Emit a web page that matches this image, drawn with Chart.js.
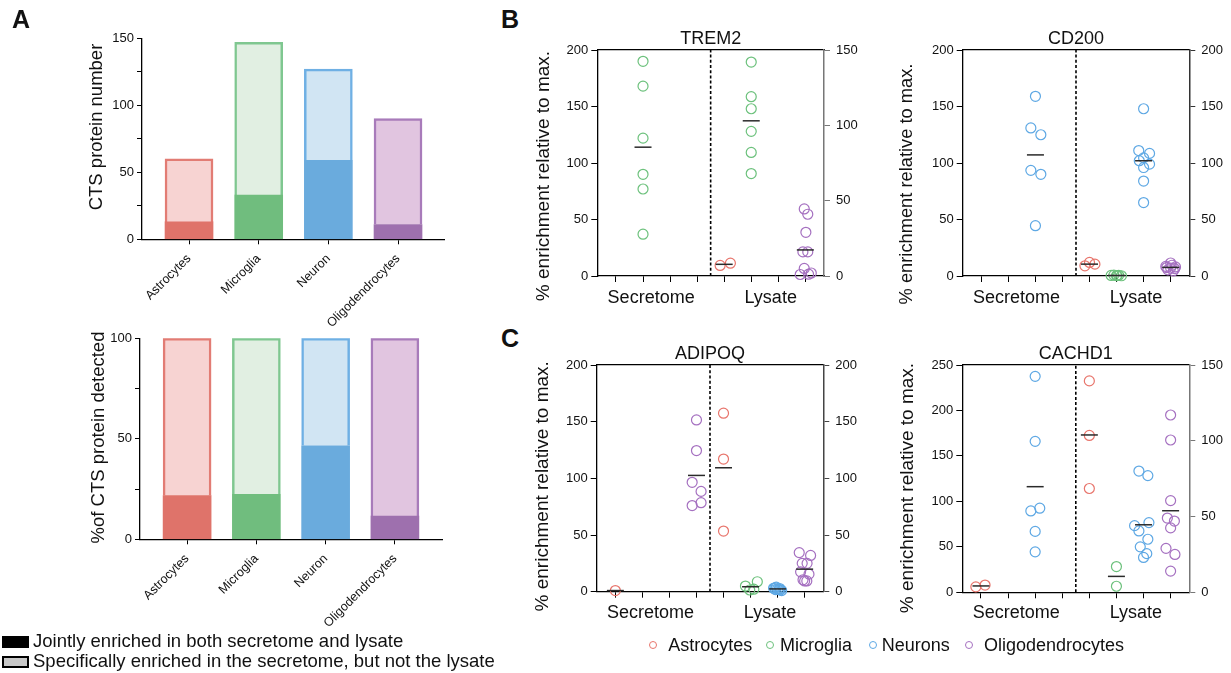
<!DOCTYPE html>
<html lang="en">
<head>
<meta charset="UTF-8">
<title>CTS proteins</title>
<script src="https://cdn.jsdelivr.net/npm/chart.js"></script>
<style>
  body { margin: 0; width: 1231px; height: 673px; position: relative; overflow: hidden; background: #fff;
         font-family: Arial, "Liberation Sans", Helvetica, sans-serif; color: #111; }
  canvas { position: absolute; }
  .letter { position: absolute; font-weight: bold; font-size: 25px; line-height: 1; }
  .txt { position: absolute; white-space: nowrap; line-height: 1; }
  .dot { position: absolute; width: 8px; height: 8px; border: 1.3px solid; border-radius: 50%; box-sizing: border-box; }
  .sq { position: absolute; width: 27px; height: 12px; box-sizing: border-box; border: 2px solid #000; }
</style>
</head>
<body>
<canvas id="ctsNumber" width="480" height="345" style="left:0;top:0"></canvas>
<canvas id="ctsPercent" width="480" height="330" style="left:0;top:310px"></canvas>
<canvas id="trem2" width="350" height="310" style="left:520px;top:0"></canvas>
<canvas id="cd200" width="361" height="310" style="left:870px;top:0"></canvas>
<canvas id="adipoq" width="350" height="310" style="left:520px;top:320px"></canvas>
<canvas id="cachd1" width="361" height="310" style="left:870px;top:320px"></canvas>

<div class="letter" style="left:12px;top:7px">A</div>
<div class="letter" style="left:501px;top:7px">B</div>
<div class="letter" style="left:501px;top:326px">C</div>

<div class="sq" style="left:2px;top:636px;background:#000"></div>
<div class="txt" style="left:33px;top:632px;font-size:18.5px">Jointly enriched in both secretome and lysate</div>
<div class="sq" style="left:2px;top:656px;background:#c8c8c8"></div>
<div class="txt" style="left:33px;top:652px;font-size:18.5px">Specifically enriched in the secretome, but not the lysate</div>

<div id="dotLegend"></div>

<script>
// ---- panel A data ----
const cellTypes = ["Astrocytes", "Microglia", "Neuron", "Oligodendrocytes"];
const ctsJoint = [13, 33, 59, 11];          // jointly enriched (count)
const ctsSecretomeOnly = [47, 114, 68, 79]; // secretome only (count); totals 60, 147, 127, 90
const pctJoint = [21.7, 22.4, 46.5, 11.6];
const pctSecretomeOnly = [78.3, 77.6, 53.5, 88.4];

// ---- panels B/C data: [astrocytes, microglia, neurons, oligodendrocytes] ----
const groupNames = ["Astrocytes", "Microglia", "Neurons", "Oligodendrocytes"];

const trem2Secretome = [[], [190, 168, 122, 90, 77, 37], [], []];
const trem2SecretomeJitter = [[], [0, 0, 0, 0, 0, 0], [], []];
const trem2Lysate = [[7, 8.5], [142, 119, 111, 96, 82, 68], [], [44.5, 41, 29, 16, 16, 5, 1, 1.2, 2]];
const trem2LysateJitter = [[-0.15, 0.23], [0, 0, 0, 0, 0, 0], [], [-0.04, 0.09, 0.02, -0.09, 0.09, -0.04, -0.19, 0.12, 0.22]];

const cd200Secretome = [[], [], [159, 131, 125, 93.5, 90, 44.5], []];
const cd200SecretomeJitter = [[], [], [0, -0.17, 0.2, -0.17, 0.2, 0], []];
const cd200Lysate = [[9, 12, 10.5], [0.5, 0.8, 0.3, 0.6, 0.2, 0.4], [148, 111, 108.5, 104.5, 102, 99, 96, 84, 65], [8.5, 11.5, 8, 5.5, 4.5, 7, 7.5, 6.5, 9.5]];
const cd200LysateJitter = [[-0.17, 0, 0.2], [-0.2, -0.1, 0, 0.08, 0.18, 0.02], [0, -0.18, 0.22, 0, -0.16, 0.22, 0, 0, 0], [-0.18, 0, 0.18, -0.1, 0.1, 0, -0.15, 0.15, 0.05]];

const adipoqSecretome = [[1], [], [], [151.5, 124.5, 96.5, 88.5, 76, 78.5]];
const adipoqSecretomeJitter = [[0], [], [], [0, 0, -0.16, 0.17, -0.16, 0.17]];
const adipoqLysate = [[157.5, 117, 53.5], [5, 1.5, 2.2, 8.8], [3.5, 2.5, 1.5, 4, 2, 1, 3, 2.8, 1.8], [34.5, 32, 25, 25, 17.5, 15.5, 10.5, 9.5, 9.5]];
const adipoqLysateJitter = [[0, 0, 0], [-0.19, -0.03, 0.12, 0.25], [-0.1, 0, 0.1, -0.05, 0.05, 0.15, -0.15, 0.08, -0.08], [-0.2, 0.22, -0.09, 0.09, -0.15, 0.16, -0.06, 0.08, 0]];

const cachd1Secretome = [[6, 8], [], [237.5, 166, 89.5, 92.5, 67, 44.5], []];
const cachd1SecretomeJitter = [[-0.19, 0.15], [], [0, 0, -0.16, 0.17, 0, 0], []];
const cachd1Lysate = [[139.5, 103.5, 68.5], [17, 4], [80, 77, 46, 44, 40.5, 35, 30, 25.5, 23], [117, 100.5, 60.5, 49, 47, 42.5, 29, 25, 14]];
const cachd1LysateJitter = [[0, 0, 0], [0, 0], [-0.17, 0.16, 0.2, -0.33, -0.17, 0.16, -0.12, 0.12, 0], [0, 0, 0, -0.12, 0.14, 0, -0.17, 0.16, 0]];

// colours
const dotColors = ["#e8756c", "#6cc17c", "#5ea8e4", "#a570c0"];
const barDark = ["#df736a", "#70bd7e", "#6aabdd", "#9e70ae"];
const barLight = ["#f7d3d2", "#e1efe2", "#d1e5f3", "#e1c5e0"];
const barEdge = ["#e27c74", "#7fc790", "#6fb0e4", "#a87bba"];

Chart.defaults.font.family = 'Arial, "Liberation Sans", Helvetica, sans-serif';
Chart.defaults.color = "#111";
Chart.defaults.animation = false;

// free text (panel titles, axis titles, group labels)
const panelText = {
  id: "panelText",
  afterDraw(chart, args, opts) {
    const ctx = chart.ctx;
    (opts.items || []).forEach(t => {
      ctx.save();
      ctx.font = t.font;
      ctx.fillStyle = "#111";
      ctx.textAlign = "center";
      ctx.textBaseline = "middle";
      const x = t.xv !== undefined ? chart.scales.x.getPixelForValue(t.xv) : t.x;
      ctx.translate(x, t.y);
      if (t.rotate) ctx.rotate(-Math.PI / 2);
      ctx.fillText(t.text, 0, 0);
      ctx.restore();
    });
  }
};
Chart.register(panelText);

const FONT = 'Arial, "Liberation Sans", sans-serif';

function barChart(id, joint, rest, yMax, box, yTitle) {
  new Chart(document.getElementById(id), {
    type: "bar",
    data: {
      datasets: [
        { data: joint.map((v, i) => ({ x: i, y: v })), backgroundColor: barDark, borderWidth: 0, barThickness: 48 },
        { data: rest.map((v, i) => ({ x: i, y: v })), backgroundColor: barLight, borderColor: barEdge, borderWidth: 2.5, barThickness: 48 }
      ]
    },
    options: {
      responsive: false,
      events: [],
      layout: { padding: { top: box.top, right: box.right, left: 0, bottom: 0 } },
      plugins: {
        legend: { display: false },
        tooltip: { enabled: false },
        panelText: { items: [{ text: yTitle, x: box.titleX, y: box.titleY, rotate: true, font: "18.5px " + FONT }] }
      },
      scales: {
        x: {
          type: "linear", stacked: true, offset: false, min: box.xMin, max: box.xMax,
          afterBuildTicks: s => { s.ticks = cellTypes.map((c, i) => ({ value: i })); },
          afterFit: s => { s.height = box.xh; },
          ticks: { callback: v => cellTypes[v], minRotation: 45, maxRotation: 45, autoSkip: false, font: { size: 12.5 }, color: "#111", padding: 7 },
          grid: { drawOnChartArea: false, offset: false, tickLength: 5, color: "#000" },
          border: { color: "#000", width: 1.3 }
        },
        y: {
          stacked: true, min: 0, max: yMax,
          afterFit: s => { s.width = box.yw; },
          ticks: { stepSize: 25, callback: v => (v % 50 === 0 ? v : ""), font: { size: 13 }, color: "#111", padding: 3 },
          grid: { drawOnChartArea: false, tickLength: 5, color: "#000" },
          border: { color: "#000", width: 1.3 }
        }
      }
    }
  });
}

function dotChart(id, gene, sec, secJit, lys, lysJit, leftMax, rightMax, rightColor, box) {
  const datasets = [{
    data: [{ x: 3.5, y: 0 }, { x: 3.5, y: leftMax }], yAxisID: "y", showLine: true,
    borderColor: "#000", borderWidth: 1.6, borderDash: [3, 2.2], pointRadius: 0, order: 3, clip: false
  }];
  [[sec, secJit, "y", 0], [lys, lysJit, "y2", 4]].forEach(([vals, jit, axis, shift]) => {
    vals.forEach((group, g) => {
      if (!group.length) return;
      const pos = g + shift;
      datasets.push({
        data: group.map((v, k) => ({ x: pos + jit[g][k], y: v })), yAxisID: axis,
        borderColor: dotColors[g], backgroundColor: "rgba(0,0,0,0)",
        pointRadius: 5, pointBorderWidth: 1.2, order: 2, clip: false
      });
      const mean = group.reduce((a, b) => a + b, 0) / group.length;
      datasets.push({
        data: [{ x: pos, y: mean }], yAxisID: axis, pointStyle: "line",
        pointRadius: 8.5, pointBorderWidth: 1.5, borderColor: "#2a2a2a", order: 1, clip: false
      });
    });
  });
  const xRange = { min: -0.69, max: 7.69 };
  new Chart(document.getElementById(id), {
    type: "scatter",
    data: { datasets },
    options: {
      responsive: false,
      events: [],
      layout: { padding: { top: box.top, right: 0, left: 0, bottom: 0 } },
      plugins: {
        legend: { display: false },
        tooltip: { enabled: false },
        panelText: {
          items: [
            { text: gene, xv: 3.5, y: box.top - 11, font: "18px " + FONT },
            { text: "Secretome", xv: 1.3, y: box.labelY, font: "18px " + FONT },
            { text: "Lysate", xv: 5.72, y: box.labelY, font: "18px " + FONT },
            { text: "% enrichment relative to max.", x: box.titleX, y: box.titleY, rotate: true, font: box.titleFont + "px " + FONT }
          ]
        }
      },
      scales: {
        x: {
          type: "linear", ...xRange, offset: false,
          afterBuildTicks: s => { s.ticks = [0, 1, 2, 3, 4, 5, 6, 7].map(v => ({ value: v })); },
          afterFit: s => { s.height = box.xh; },
          ticks: { display: false },
          grid: { drawOnChartArea: false, offset: false, tickLength: 6, color: "#000" },
          border: { color: "#000", width: 1.3 }
        },
        xTop: {
          type: "linear", position: "top", ...xRange,
          afterFit: s => { s.height = 0; },
          ticks: { display: false },
          grid: { display: false, drawTicks: false },
          border: { color: "#000", width: 1.3 }
        },
        y: {
          min: 0, max: leftMax,
          afterFit: s => { s.width = box.yw; },
          ticks: { stepSize: 50, font: { size: 13 }, color: "#111", padding: 3 },
          grid: { drawOnChartArea: false, tickLength: 6, color: "#000" },
          border: { color: "#000", width: 1.3 }
        },
        y2: {
          position: "right", min: 0, max: rightMax,
          afterFit: s => { s.width = box.y2w; },
          ticks: { stepSize: 50, font: { size: 13 }, color: "#111", padding: 6 },
          grid: { drawOnChartArea: false, tickLength: 6, color: rightColor },
          border: { color: rightColor, width: 1.5 }
        }
      }
    }
  });
}

barChart("ctsNumber", ctsJoint, ctsSecretomeOnly, 150,
  { top: 38.3, right: 36, yw: 142, xh: 105.7, xMin: -0.675, xMax: 3.66, titleX: 97, titleY: 127 },
  "CTS protein number");
barChart("ctsPercent", pctJoint, pctSecretomeOnly, 100,
  { top: 28.3, right: 38, yw: 140, xh: 100.7, xMin: -0.68, xMax: 3.68, titleX: 99, titleY: 127.5 },
  "%of CTS protein detected");

dotChart("trem2", "TREM2", trem2Secretome, trem2SecretomeJitter, trem2Lysate, trem2LysateJitter, 200, 150, "#777",
  { top: 50, yw: 77.3, y2w: 46, xh: 34, labelY: 298, titleX: 23.3, titleY: 176, titleFont: 19 });
dotChart("cd200", "CD200", cd200Secretome, cd200SecretomeJitter, cd200Lysate, cd200LysateJitter, 200, 200, "#333",
  { top: 50, yw: 92.7, y2w: 41.7, xh: 34, labelY: 298, titleX: 37.3, titleY: 184, titleFont: 18.3 });
dotChart("adipoq", "ADIPOQ", adipoqSecretome, adipoqSecretomeJitter, adipoqLysate, adipoqLysateJitter, 200, 200, "#444",
  { top: 45, yw: 76.7, y2w: 46.7, xh: 38.3, labelY: 293.3, titleX: 22.7, titleY: 166.3, titleFont: 19 });
dotChart("cachd1", "CACHD1", cachd1Secretome, cachd1SecretomeJitter, cachd1Lysate, cachd1LysateJitter, 250, 150, "#777",
  { top: 45, yw: 92.3, y2w: 41.7, xh: 37.7, labelY: 293.3, titleX: 37.3, titleY: 168, titleFont: 19 });

// shared legend for B/C
const legendPos = [[653.3, 668.3], [770, 780], [872.7, 881.7], [969.3, 984]];
const legend = document.getElementById("dotLegend");
groupNames.forEach((name, i) => {
  const dot = document.createElement("div");
  dot.className = "dot";
  dot.style.left = (legendPos[i][0] - 4) + "px";
  dot.style.top = "641px";
  dot.style.borderColor = dotColors[i];
  legend.appendChild(dot);
  const t = document.createElement("div");
  t.className = "txt";
  t.style.left = legendPos[i][1] + "px";
  t.style.top = "636px";
  t.style.fontSize = "18px";
  t.textContent = name;
  legend.appendChild(t);
});
</script>
</body>
</html>
